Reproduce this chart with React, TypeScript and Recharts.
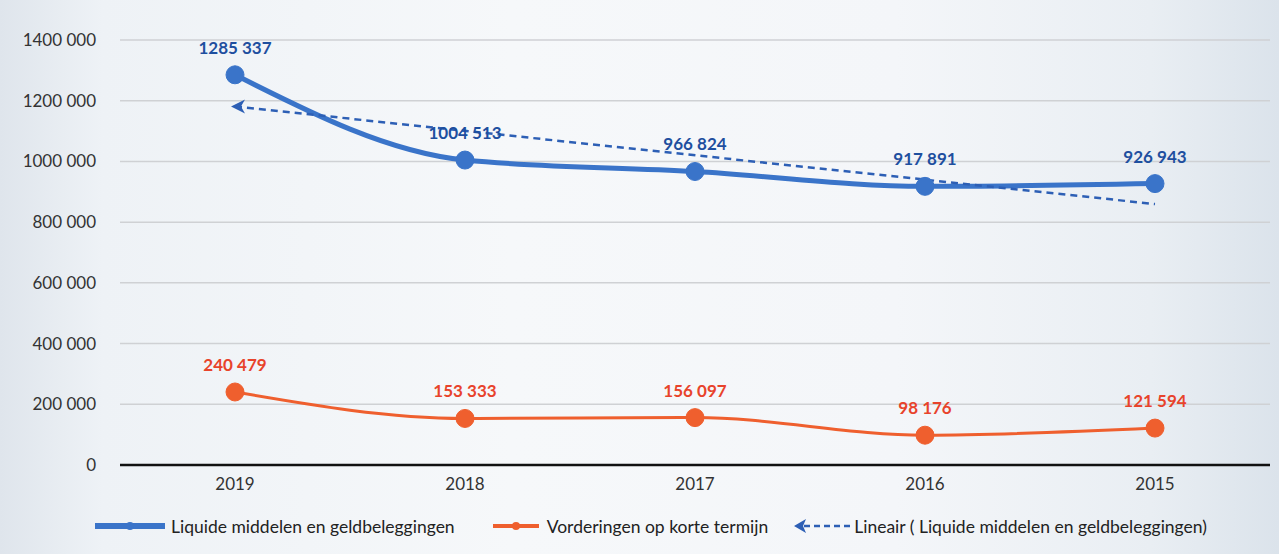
import React from 'react';
import { LineChart, Line, XAxis, YAxis, CartesianGrid, Legend, LabelList } from 'recharts';

const years = ['2019', '2018', '2017', '2016', '2015'];
const liquide = [1285337, 1004513, 966824, 917891, 926943];
const vorderingen = [240479, 153333, 156097, 98176, 121594];
// trendline end points (Excel linear trend)
const lineair = [1181000, null, null, null, 859600];
const yTicks = [0, 200000, 400000, 600000, 800000, 1000000, 1200000, 1400000];

const data = years.map((year, i) => ({
  year,
  liquide: liquide[i],
  vorderingen: vorderingen[i],
  lineair: lineair[i],
}));

const BLUE = '#3a74c9';
const BLUE_LABEL = '#1e4f9f';
const RED = '#ef5f2e';
const RED_LABEL = '#e8432b';
const FONT = 'Lato, "Open Sans", sans-serif';

const fmt = (v: number) => {
  if (v < 1000) return String(v);
  return `${Math.floor(v / 1000)} ${String(v % 1000).padStart(3, '0')}`;
};

const ArrowDot = (props: any) => {
  const { cx, cy, index } = props;
  if (index !== 0 || cx == null || cy == null) return <g key={`a${index}`} />;
  return (
    <path
      key={`a${index}`}
      d={`M${cx - 4},${cy} L${cx + 10},${cy - 7} L${cx + 6},${cy} L${cx + 10},${cy + 7} Z`}
      fill="#2d5fb5"
    />
  );
};

const LegendContent = () => (
  <div
    style={{
      display: 'flex',
      alignItems: 'center',
      paddingLeft: 85,
      fontFamily: FONT,
      fontSize: 17.5,
      color: '#222',
      height: 30,
      whiteSpace: 'nowrap',
    }}
  >
    <svg width={70} height={14}>
      <line x1={0} y1={7} x2={70} y2={7} stroke={BLUE} strokeWidth={6} />
      <circle cx={35} cy={7} r={4} fill={BLUE} />
    </svg>
    <span style={{ marginLeft: 6, marginRight: 38 }}>Liquide middelen en geldbeleggingen</span>
    <svg width={46} height={14}>
      <line x1={0} y1={7} x2={46} y2={7} stroke={RED} strokeWidth={4} />
      <circle cx={23} cy={7} r={4} fill={RED} />
    </svg>
    <span style={{ marginLeft: 8, marginRight: 26 }}>Vorderingen op korte termijn</span>
    <svg width={56} height={16}>
      <path d="M0,8 L12,1 L9,8 L12,15 Z" fill="#2d5fb5" />
      <line x1={10} y1={8} x2={56} y2={8} stroke="#2d5fb5" strokeWidth={2.5} strokeDasharray="6 4" />
    </svg>
    <span style={{ marginLeft: 4 }}>Lineair ( Liquide middelen en geldbeleggingen)</span>
  </div>
);

export default function App() {
  return (
    <div
      style={{
        position: 'fixed',
        left: 0,
        top: 0,
        width: 1279,
        height: 554,
        background:
          'linear-gradient(90deg, #dfe5ec 0%, #eef2f6 8%, #f6f8fa 40%, #f4f6f9 70%, #e9eef3 90%, #dbe3eb 100%)',
      }}
    >
      <LineChart
        width={1279}
        height={554}
        data={data}
        margin={{ top: 40, right: 9, left: 10, bottom: 4 }}
        style={{ fontFamily: FONT }}
      >
        <CartesianGrid vertical={false} stroke="#cfd1d4" strokeWidth={1.5} />
        <XAxis
          dataKey="year"
          padding={{ left: 115, right: 115 }}
          axisLine={{ stroke: '#111', strokeWidth: 2.5 }}
          tickLine={false}
          tickSize={0}
          tickMargin={13}
          height={46}
          tick={{ fill: '#333', fontSize: 17 }}
        />
        <YAxis
          domain={[0, 1400000]}
          ticks={yTicks}
          tickFormatter={fmt}
          axisLine={false}
          tickLine={false}
          tickSize={0}
          tickMargin={24}
          width={110}
          tick={{ fill: '#333', fontSize: 17 }}
        />
        <Legend verticalAlign="bottom" height={39} content={<LegendContent />} />
        <Line
          type="monotone"
          dataKey="liquide"
          stroke={BLUE}
          strokeWidth={5}
          dot={{ r: 9, fill: BLUE, stroke: BLUE, strokeWidth: 1 }}
          isAnimationActive={false}
        >
          <LabelList
            dataKey="liquide"
            position="top"
            offset={21}
            formatter={(v: any) => fmt(Number(v))}
            style={{ fill: BLUE_LABEL, fontSize: 17, fontWeight: 700 }}
          />
        </Line>
        <Line
          type="monotone"
          dataKey="vorderingen"
          stroke={RED}
          strokeWidth={3}
          dot={{ r: 9, fill: RED, stroke: RED, strokeWidth: 1 }}
          isAnimationActive={false}
        >
          <LabelList
            dataKey="vorderingen"
            position="top"
            offset={21}
            formatter={(v: any) => fmt(Number(v))}
            style={{ fill: RED_LABEL, fontSize: 17, fontWeight: 700 }}
          />
        </Line>
        <Line
          type="linear"
          dataKey="lineair"
          connectNulls
          stroke="#2d5fb5"
          strokeWidth={2.5}
          strokeDasharray="7 5"
          dot={ArrowDot}
          activeDot={false}
          isAnimationActive={false}
        />
      </LineChart>
    </div>
  );
}
